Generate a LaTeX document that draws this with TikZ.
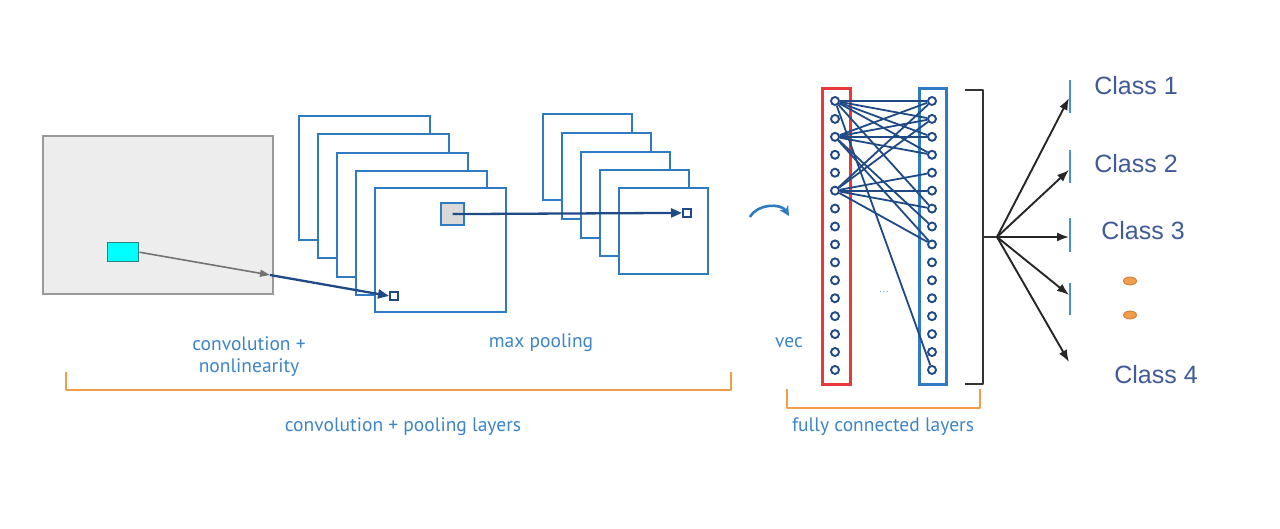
\documentclass[tikz,border=0pt]{standalone}
\usepackage{fontspec}
\setmainfont{Liberation Sans}
\newfontfamily\lblfont{PT Sans}
\usetikzlibrary{arrows.meta,shapes.geometric}
\definecolor{fblue}{HTML}{2E7BC4}
\definecolor{navy}{HTML}{1F4A85}
\definecolor{lblblue}{HTML}{3D85C6}
\definecolor{clsblue}{HTML}{3F5B98}
\definecolor{oran}{HTML}{F39C4A}
\definecolor{redb}{HTML}{E8393A}
\definecolor{tickblue}{HTML}{4A90D0}
\definecolor{brightcyan}{HTML}{00FFFF}
\tikzset{
  fmap/.style={draw=fblue, line width=2.8pt, fill=white, inner sep=0pt, outer sep=0pt, anchor=north west},
  convmap/.style={fmap, minimum width=131pt, minimum height=124pt},
  poolmap/.style={fmap, minimum width=89pt, minimum height=86pt},
  neuron/.style={circle, draw=navy, line width=1.9pt, fill=white, minimum size=8pt, inner sep=0pt},
  conn/.style={draw=navy, line width=1.8pt},
  navyarrow/.style={draw=navy, line width=2.3pt, -{Triangle[length=11pt,width=9pt]}},
  clsarrow/.style={draw=black!85, line width=1.9pt, -{Latex[length=12pt,width=9pt]}},
  lbl/.style={font=\lblfont\fontsize{19.5}{22}\selectfont, text=lblblue, align=center},
  cls/.style={font=\fontsize{25}{28}\selectfont, text=clsblue},
  obracket/.style={draw=oran, line width=2.6pt},
  ctick/.style={draw=tickblue, line width=2.4pt},
  odot/.style={ellipse, draw=oran!80!black, fill=oran, line width=0.8pt, minimum width=13pt, minimum height=8pt, inner sep=0pt},
}
\begin{document}
\begin{tikzpicture}[x=1pt,y=-1pt]
\useasboundingbox[fill=white] (0,0) rectangle (1280,529);
% input image
\node[draw=black!40, fill=black!7, line width=2pt, minimum width=230pt, minimum height=158pt, inner sep=0pt, anchor=north west] (input) at (42,135) {};
\node[draw=teal!60!gray, fill=brightcyan, line width=1.4pt, minimum width=31pt, minimum height=19pt, inner sep=0pt, anchor=north west] (cyanp) at (107,242) {};
% convolution feature maps
\node[convmap] (c1) at (299,116) {};
\node[convmap] (c2) at (318,134) {};
\node[convmap] (c3) at (337,153) {};
\node[convmap] (c4) at (356,171) {};
\node[convmap] (c5) at (375,188) {};
\node[draw=fblue, fill=black!15, line width=2.2pt, minimum width=23pt, minimum height=22pt, inner sep=0pt, anchor=north west] (gsq) at (440,202) {};
\node[draw=navy, fill=white, line width=1.8pt, minimum width=8pt, minimum height=8pt, inner sep=0pt, anchor=north west] (csq) at (389,291) {};
% pooling maps
\node[poolmap] (p1) at (543,114) {};
\node[poolmap] (p2) at (562,133) {};
\node[poolmap] (p3) at (581,152) {};
\node[poolmap] (p4) at (600,170) {};
\node[poolmap] (p5) at (619,188) {};
\node[draw=navy, fill=white, line width=1.8pt, minimum width=8pt, minimum height=8pt, inner sep=0pt, anchor=north west] (psq) at (682,208) {};
% arrows into maps
\coordinate (mid) at (270,275);
\draw[draw=black!55, line width=1.6pt, -{Triangle[length=10pt,width=7pt]}] (cyanp.east) -- (mid);
\draw[navyarrow] (mid) -- (csq.west);
\draw[navyarrow] (gsq.center) -- (psq.west);
% curved arrow
\coordinate (cv1) at (750,217);
\coordinate (cv2) at (789,216);
\draw[draw=fblue, line width=2.6pt, -{Stealth[length=10pt,width=10pt]}] (cv1) to[bend left=60] (cv2);
% fully connected
\node[draw=redb, line width=2.7pt, minimum width=28pt, minimum height=296pt, inner sep=0pt, anchor=north west] (vecbox) at (821,87) {};
\node[draw=fblue, line width=2.7pt, minimum width=27pt, minimum height=296pt, inner sep=0pt, anchor=north west] (fcbox) at (918,87) {};
\foreach \i in {0,...,15} {
  \node[neuron] (r\i) at (835,{101+17.93*\i}) {};
  \node[neuron] (b\i) at (932,{101+17.93*\i}) {};
}
\foreach \a/\b in {0/0,0/1,0/2,0/3,0/6,0/15,2/0,2/1,2/2,2/3,2/7,2/8,5/0,5/1,5/4,5/5,5/6,5/8}
  \draw[conn] (r\a) -- (b\b);
\node[font=\lblfont\fontsize{12}{14}\selectfont, text=lblblue!70] (dots) at (884,292) {...};
\node[lbl] (vec) at (789,343) {vec};
% black bracket
\coordinate (bk1) at (965,90);
\coordinate (bk2) at (983,90);
\coordinate (bk3) at (983,384);
\coordinate (bk4) at (965,384);
\coordinate (bkm) at (983,237);
\coordinate (fan) at (997,237);
\draw[draw=black!80, line width=2.2pt, line join=round] (bk1) -- (bk2) -- (bk3) -- (bk4);
\draw[draw=black!80, line width=2.2pt] (bkm) -- (fan);
% class arrows
\coordinate (t1) at (1069,98);
\coordinate (t2) at (1069,170);
\coordinate (t3) at (1069,237);
\coordinate (t4) at (1069,295);
\coordinate (t5) at (1069,362);
\foreach \k in {1,...,5} \draw[clsarrow] (fan) -- (t\k);
\coordinate (k1a) at (1070,80);  \coordinate (k1b) at (1070,113);
\coordinate (k2a) at (1070,150); \coordinate (k2b) at (1070,183);
\coordinate (k3a) at (1070,218); \coordinate (k3b) at (1070,252);
\coordinate (k4a) at (1070,283); \coordinate (k4b) at (1070,315);
\foreach \k in {1,...,4} \draw[ctick] (k\k a) -- (k\k b);
\node[cls] (cl1) at (1136,86) {Class 1};
\node[cls] (cl2) at (1136,164) {Class 2};
\node[cls] (cl3) at (1143,231) {Class 3};
\node[cls] (cl4) at (1156,375) {Class 4};
\node[odot] (od1) at (1130,281) {};
\node[odot] (od2) at (1130,315) {};
% labels
\node[lbl] (convlbl) at (249,357) {convolution +\\nonlinearity};
\node[lbl] (poollbl) at (541,343) {max pooling};
\coordinate (ob1) at (66,372);
\coordinate (ob2) at (66,390);
\coordinate (ob3) at (731,390);
\coordinate (ob4) at (731,372);
\draw[obracket, line join=round] (ob1) -- (ob2) -- (ob3) -- (ob4);
\node[lbl] (cplbl) at (403,427) {convolution + pooling layers};
\coordinate (of1) at (787,389);
\coordinate (of2) at (787,408);
\coordinate (of3) at (980,408);
\coordinate (of4) at (980,389);
\draw[obracket, line join=round] (of1) -- (of2) -- (of3) -- (of4);
\node[lbl] (fclbl) at (883,427) {fully connected layers};
\end{tikzpicture}
\end{document}
